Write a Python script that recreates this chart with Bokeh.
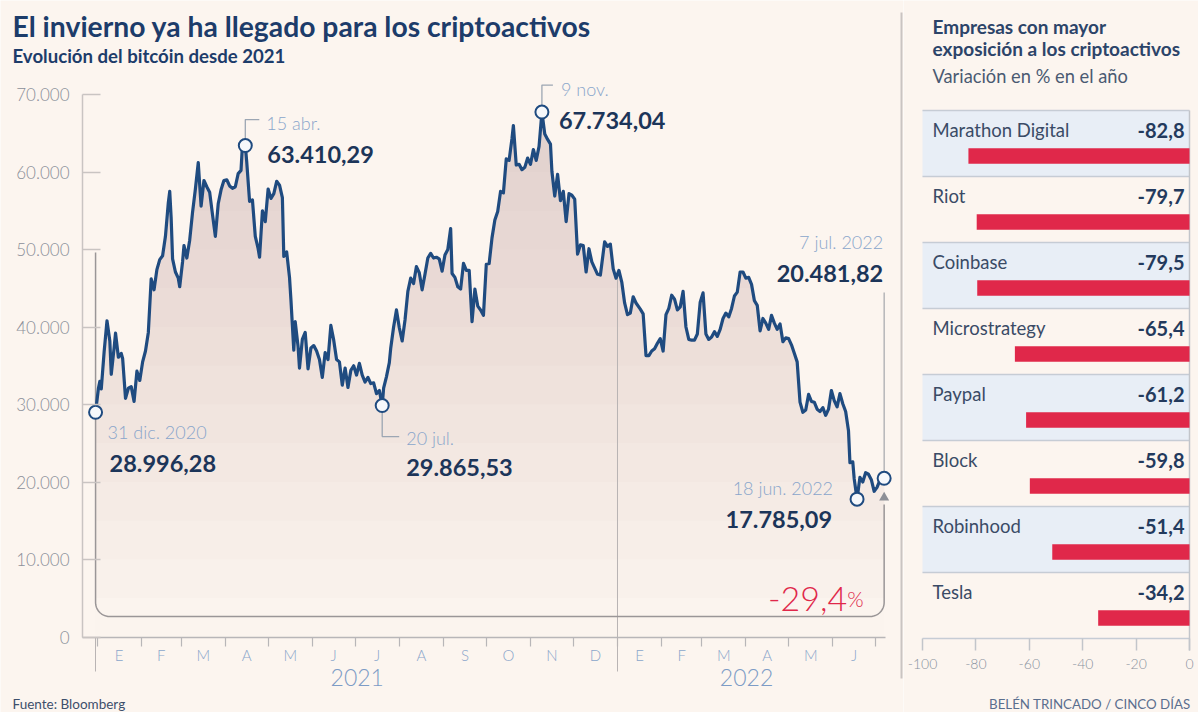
import numpy as np
import pandas as pd
from bokeh.plotting import figure
from bokeh.models import Range1d, LinearAxis, FixedTicker
from bokeh.layouts import row
from bokeh.embed import file_html
from bokeh.resources import INLINE
from bokeh.core.properties import value

# ---------------- data ----------------
btc_dates = [
    "2020-12-31", "2021-01-02", "2021-01-03", "2021-01-04", "2021-01-06", "2021-01-08", "2021-01-10", "2021-01-11",
    "2021-01-13", "2021-01-14", "2021-01-16", "2021-01-18", "2021-01-19", "2021-01-21", "2021-01-23", "2021-01-25",
    "2021-01-27", "2021-01-29", "2021-01-31", "2021-02-02", "2021-02-04", "2021-02-06", "2021-02-08", "2021-02-10",
    "2021-02-12", "2021-02-14", "2021-02-16", "2021-02-18", "2021-02-20", "2021-02-21", "2021-02-22", "2021-02-23",
    "2021-02-25", "2021-02-27", "2021-02-28", "2021-03-02", "2021-03-03", "2021-03-05", "2021-03-07", "2021-03-09",
    "2021-03-11", "2021-03-13", "2021-03-15", "2021-03-17", "2021-03-19", "2021-03-21", "2021-03-23", "2021-03-25",
    "2021-03-27", "2021-03-29", "2021-03-31", "2021-04-02", "2021-04-04", "2021-04-06", "2021-04-08", "2021-04-10",
    "2021-04-12", "2021-04-13", "2021-04-15", "2021-04-16", "2021-04-18", "2021-04-20", "2021-04-22", "2021-04-24",
    "2021-04-25", "2021-04-27", "2021-04-29", "2021-05-01", "2021-05-03", "2021-05-05", "2021-05-07", "2021-05-09",
    "2021-05-11", "2021-05-12", "2021-05-14", "2021-05-16", "2021-05-17", "2021-05-19", "2021-05-20", "2021-05-22",
    "2021-05-23", "2021-05-25", "2021-05-27", "2021-05-29", "2021-05-31", "2021-06-02", "2021-06-04", "2021-06-06",
    "2021-06-08", "2021-06-10", "2021-06-12", "2021-06-14", "2021-06-16", "2021-06-18", "2021-06-20", "2021-06-22",
    "2021-06-24", "2021-06-26", "2021-06-28", "2021-06-30", "2021-07-02", "2021-07-04", "2021-07-06", "2021-07-08",
    "2021-07-10", "2021-07-12", "2021-07-14", "2021-07-16", "2021-07-18", "2021-07-20", "2021-07-21", "2021-07-23",
    "2021-07-25", "2021-07-26", "2021-07-28", "2021-07-30", "2021-08-01", "2021-08-03", "2021-08-05", "2021-08-07",
    "2021-08-09", "2021-08-11", "2021-08-13", "2021-08-15", "2021-08-17", "2021-08-19", "2021-08-21", "2021-08-23",
    "2021-08-25", "2021-08-27", "2021-08-29", "2021-08-31", "2021-09-02", "2021-09-04", "2021-09-06", "2021-09-07",
    "2021-09-09", "2021-09-11", "2021-09-13", "2021-09-15", "2021-09-17", "2021-09-19", "2021-09-21", "2021-09-23",
    "2021-09-25", "2021-09-27", "2021-09-29", "2021-10-01", "2021-10-03", "2021-10-05", "2021-10-07", "2021-10-09",
    "2021-10-11", "2021-10-13", "2021-10-15", "2021-10-17", "2021-10-19", "2021-10-20", "2021-10-22", "2021-10-24",
    "2021-10-26", "2021-10-28", "2021-10-30", "2021-11-01", "2021-11-03", "2021-11-05", "2021-11-07", "2021-11-09",
    "2021-11-11", "2021-11-13", "2021-11-15", "2021-11-16", "2021-11-18", "2021-11-20", "2021-11-22", "2021-11-24",
    "2021-11-26", "2021-11-28", "2021-11-30", "2021-12-02", "2021-12-04", "2021-12-06", "2021-12-08", "2021-12-10",
    "2021-12-12", "2021-12-14", "2021-12-16", "2021-12-18", "2021-12-20", "2021-12-23", "2021-12-25", "2021-12-27",
    "2021-12-29", "2021-12-31", "2022-01-02", "2022-01-04", "2022-01-06", "2022-01-08", "2022-01-10", "2022-01-12",
    "2022-01-14", "2022-01-17", "2022-01-19", "2022-01-21", "2022-01-23", "2022-01-25", "2022-01-27", "2022-01-29",
    "2022-01-31", "2022-02-02", "2022-02-04", "2022-02-06", "2022-02-08", "2022-02-10", "2022-02-12", "2022-02-14",
    "2022-02-16", "2022-02-18", "2022-02-20", "2022-02-22", "2022-02-24", "2022-02-26", "2022-02-28", "2022-03-02",
    "2022-03-04", "2022-03-06", "2022-03-08", "2022-03-10", "2022-03-12", "2022-03-14", "2022-03-16", "2022-03-18",
    "2022-03-20", "2022-03-22", "2022-03-24", "2022-03-26", "2022-03-28", "2022-03-30", "2022-04-01", "2022-04-03",
    "2022-04-05", "2022-04-07", "2022-04-09", "2022-04-11", "2022-04-13", "2022-04-15", "2022-04-17", "2022-04-19",
    "2022-04-21", "2022-04-23", "2022-04-25", "2022-04-27", "2022-04-29", "2022-05-01", "2022-05-03", "2022-05-05",
    "2022-05-07", "2022-05-09", "2022-05-11", "2022-05-13", "2022-05-15", "2022-05-17", "2022-05-19", "2022-05-21",
    "2022-05-23", "2022-05-25", "2022-05-27", "2022-05-29", "2022-05-31", "2022-06-02", "2022-06-04", "2022-06-06",
    "2022-06-08", "2022-06-10", "2022-06-12", "2022-06-13", "2022-06-15", "2022-06-16", "2022-06-18", "2022-06-20",
    "2022-06-22", "2022-06-24", "2022-06-26", "2022-06-28", "2022-06-30", "2022-07-02", "2022-07-04", "2022-07-05",
    "2022-07-07",
]
btc_prices = [
    28996, 32100, 33000, 32000, 36800, 40800, 38200, 33900,
    37300, 39200, 36100, 36600, 35900, 30800, 32100, 32300,
    30400, 34300, 33100, 35500, 36900, 39300, 46200, 44800,
    47400, 48700, 49200, 51700, 56000, 57500, 54100, 48800,
    47100, 46300, 45200, 48400, 50500, 48900, 51200, 54800,
    57800, 61200, 55600, 58900, 58100, 57400, 54500, 51700,
    55900, 57700, 58900, 59000, 58200, 57900, 58100, 59800,
    60200, 63500, 63410, 61300, 56200, 56400, 51700, 50100,
    49000, 55000, 53600, 57800, 56600, 57200, 58800, 58300,
    56700, 49100, 49700, 46400, 43500, 37000, 40700, 37500,
    34700, 38400, 39300, 34600, 37300, 37600, 36900, 35800,
    33500, 36700, 35800, 40200, 38300, 35800, 35500, 32500,
    34700, 32200, 34400, 35000, 33800, 35300, 33800, 32900,
    33500, 32700, 32800, 31400, 31800, 29865, 32100, 33600,
    35400, 37300, 40000, 42200, 39900, 38200, 40900, 44600,
    46300, 45600, 47800, 47000, 44800, 46800, 48900, 49500,
    48900, 49000, 48800, 47200, 49300, 50000, 52700, 46900,
    46400, 45200, 44900, 48200, 47300, 47300, 40700, 44900,
    42700, 42200, 41500, 48100, 48200, 51500, 53800, 54900,
    57500, 57300, 61700, 61500, 64300, 66000, 60900, 61000,
    60300, 60600, 61800, 61000, 62900, 61500, 63300, 67734,
    64900, 64200, 63600, 60100, 56900, 59700, 56300, 57500,
    53600, 57200, 57000, 56500, 49400, 50600, 50500, 47100,
    50100, 48400, 47600, 46800, 46700, 51000, 50400, 50700,
    47500, 46300, 47300, 45800, 43100, 41600, 41800, 43900,
    43100, 42300, 41700, 36300, 36300, 36900, 37200, 37900,
    38500, 36900, 41600, 42400, 44100, 43600, 42200, 42600,
    44600, 40000, 38400, 38300, 38300, 39100, 43200, 44400,
    39100, 38400, 38700, 39400, 38800, 39700, 41100, 41800,
    41300, 42400, 44000, 44500, 47100, 47100, 46300, 46400,
    45500, 43400, 42800, 39500, 41100, 40500, 39700, 41500,
    40500, 39700, 40400, 38100, 38600, 38500, 37700, 36600,
    35500, 30300, 29000, 29300, 31300, 30400, 30300, 29400,
    29100, 29600, 28600, 29400, 31800, 30500, 29700, 31400,
    30100, 29100, 26600, 22500, 22600, 20400, 17785, 20600,
    20000, 21200, 21000, 20300, 18800, 19300, 20200, 20200,
    20481,
]

annot_dates = ["2020-12-31", "2021-04-15", "2021-07-20", "2021-11-09", "2022-06-18", "2022-07-07"]
annot_date_labels = ["31 dic. 2020", "15 abr.", "20 jul.", "9 nov.", "18 jun. 2022", "7 jul. 2022"]
annot_values = [28996.28, 63410.29, 29865.53, 67734.04, 17785.09, 20481.82]
annot_value_labels = ["28.996,28", "63.410,29", "29.865,53", "67.734,04", "17.785,09", "20.481,82"]
change_label = "-29,4"
change_unit = "%"

y_ticks = [0, 10000, 20000, 30000, 40000, 50000, 60000, 70000]
y_tick_labels = ["0", "10.000", "20.000", "30.000", "40.000", "50.000", "60.000", "70.000"]
month_labels = ["E", "F", "M", "A", "M", "J", "J", "A", "S", "O", "N", "D",
                "E", "F", "M", "A", "M", "J"]
year_labels = ["2021", "2022"]

companies = ["Marathon Digital", "Riot", "Coinbase", "Microstrategy", "Paypal", "Block", "Robinhood", "Tesla"]
changes = [-82.8, -79.7, -79.5, -65.4, -61.2, -59.8, -51.4, -34.2]
change_texts = ["-82,8", "-79,7", "-79,5", "-65,4", "-61,2", "-59,8", "-51,4", "-34,2"]
bar_ticks = [-100, -80, -60, -40, -20, 0]
bar_tick_labels = ["-100", "-80", "-60", "-40", "-20", "0"]

title = "El invierno ya ha llegado para los criptoactivos"
subtitle = "Evolución del bitcóin desde 2021"
source = "Fuente: Bloomberg"
credit = "BELÉN TRINCADO / CINCO DÍAS"
side_title = ["Empresas con mayor", "exposición a los criptoactivos"]
side_subtitle = "Variación en % en el año"

# ---------------- style ----------------
BG = "#fcf5ef"
NAVY = "#1d3c6a"
LINE = "#1f4b80"
VALUE = "#1c3559"
DATE = "#8aa6cb"
AXISLBL = "#8b8f99"
GRID = "#c9c4c2"
RED = "#e0284a"
ROWFILL = "#e8eef6"
FONT = "Lato"
LIGHT = "Lato Light"
W1, W2, H = 903, 295, 712

ORIGIN = pd.Timestamp("2021-01-01")


def to_day(d):
    return float((pd.Timestamp(d) - ORIGIN).days)


days = np.array([to_day(d) for d in btc_dates])
prices = np.array(btc_prices, dtype=float)
ann_days = np.array([to_day(d) for d in annot_dates])
ann_vals = np.array(annot_values)

# geometry of the line chart (page pixels)
X_DAY0, PX_DAY = 96.5, 1.426
Y_ZERO, PX_VAL = 636.5, 542.5 / 70000


def xd(px):
    return (px - X_DAY0) / PX_DAY


def yv(py):
    return (Y_ZERO - py) / PX_VAL


p1 = figure(width=W1, height=H, x_range=Range1d(xd(0), xd(W1)), y_range=Range1d(yv(H), yv(0)),
            output_backend="svg", toolbar_location=None, x_axis_location=None, y_axis_location=None,
            min_border=0, background_fill_color=BG, border_fill_color=BG, outline_line_color=None)
p1.xgrid.visible = False
p1.ygrid.visible = False

# vertical gradient-like fill under the line (stacked translucent bands)
for t in range(5000, 70000, 5000):
    p1.varea(x=days, y1=np.full(len(days), float(t)), y2=np.maximum(prices, t),
             fill_color="#ab9ca1", fill_alpha=0.028)
p1.varea(x=days, y1=np.zeros(len(days)), y2=prices, fill_color="#ab9ca1", fill_alpha=0.012)

# year divider inside the chart
jan22 = to_day("2022-01-01")
p1.segment(x0=[jan22], y0=[0], x1=[jan22], y1=[float(np.interp(jan22, days, prices))],
           line_color="#b9b4b4", line_width=1)

# bracket from the first to the last value
xb0, xb1 = days[0], days[-1]
yb = yv(616)
rx, ryv = 14 / PX_DAY, 14 / PX_VAL
th = np.linspace(0, np.pi / 2, 14)
bx_path = np.concatenate([[xb0], xb0 + rx - rx * np.cos(th), xb1 - rx + rx * np.sin(th), [xb1]])
by_path = np.concatenate([[yv(252)], yb + ryv - ryv * np.sin(th), yb + ryv - ryv * np.cos(th), [yv(504)]])
p1.line(bx_path, by_path, line_color="#9a9697", line_width=1.5)
p1.scatter(x=[xb1], y=[yv(497)], marker="triangle", size=10, fill_color="#8d8f96", line_color=None)

# vertical line to the last label
p1.segment(x0=[xb1], y0=[yv(292)], x1=[xb1], y1=[ann_vals[-1]], line_color="#a4a6ab", line_width=1.2)


# leader lines
def leader(i, vpx, hpx):
    x, y = ann_days[i], ann_vals[i]
    ye = y - vpx / PX_VAL
    return [x, x, x + hpx / PX_DAY], [y, ye, ye]


leads = [leader(1, -26, 14), leader(3, -27, 11), leader(2, 31, 17)]
p1.multi_line(xs=[l[0] for l in leads], ys=[l[1] for l in leads], line_color="#9ca6b3", line_width=1.3)

# the price line
p1.line(days, prices, line_color=LINE, line_width=3.2, line_join="round")

# marked points
p1.scatter(x=ann_days, y=ann_vals, marker="circle", size=13, fill_color="#f6f8fb",
           line_color=LINE, line_width=2)

# annotation texts (offsets in pixels)
date_off = [(12, 20, "left"), (21, -23, "left"), (24, 32, "left"), (19, -23, "left"), (-24, -11, "right"), (-1, -236, "right")]
val_off = [(14, 51, "left"), (22, 9, "left"), (24, 62, "left"), (17, 8, "left"), (-25, 20, "right"), (-1, -205, "right")]
for i in range(len(annot_dates)):
    dx, dy, al = date_off[i]
    p1.text(x=[ann_days[i]], y=[ann_vals[i]], text=[annot_date_labels[i]], x_offset=dx, y_offset=dy,
            text_align=al, text_baseline="middle", text_font=value(LIGHT), text_font_size="18px",
            text_color=DATE)
    dx, dy, al = val_off[i]
    p1.text(x=[ann_days[i]], y=[ann_vals[i]], text=[annot_value_labels[i]], x_offset=dx, y_offset=dy,
            text_align=al, text_baseline="middle", text_font=value(FONT), text_font_style="bold",
            text_font_size="23.5px", text_color=VALUE)

# change label
p1.text(x=[xb1], y=[yb], text=[change_label], x_offset=-37, y_offset=-18, text_align="right",
        text_baseline="alphabetic", text_font=value(LIGHT), text_font_size="34px", text_color=RED)
p1.text(x=[xb1], y=[yb], text=[change_unit], x_offset=-37, y_offset=-18, text_align="left",
        text_baseline="alphabetic", text_font=value(LIGHT), text_font_size="21px", text_color=RED)

# separator between panels
p1.segment(x0=[xd(901)], y0=[yv(12)], x1=[xd(901)], y1=[yv(678)], line_color=GRID, line_width=2)

# titles and source
p1.text(x=[xd(12)], y=[yv(25)], text=[title], text_baseline="middle", text_font=value(FONT),
        text_font_style="bold", text_font_size="28.3px", text_color=NAVY)
p1.text(x=[xd(12)], y=[yv(55)], text=[subtitle], text_baseline="middle", text_font=value(FONT),
        text_font_style="bold", text_font_size="18.6px", text_color=NAVY)
p1.text(x=[xd(12)], y=[yv(703)], text=[source], text_baseline="middle", text_font=value(FONT),
        text_font_size="13.5px", text_color="#3d4f6b")

# axes
yaxis = LinearAxis(fixed_location=xd(82), bounds=(0, 70000), ticker=FixedTicker(ticks=y_ticks),
                   major_label_overrides={t: l for t, l in zip(y_ticks, y_tick_labels)},
                   major_tick_in=18, major_tick_out=0, minor_tick_in=0, minor_tick_out=0,
                   axis_line_color=GRID, axis_line_width=1.5, major_tick_line_color=GRID, major_tick_line_width=1.5,
                   major_label_standoff=13, major_label_text_font=LIGHT, major_label_text_font_size="17px",
                   major_label_text_color=AXISLBL)
p1.add_layout(yaxis, "left")

month_starts = [to_day(d) for d in pd.date_range("2021-01-01", "2022-07-01", freq="MS")]
month_mids = [(a + b) / 2 for a, b in zip(month_starts[:-1], month_starts[1:])]
xaxis = LinearAxis(fixed_location=0, bounds=(xd(82), xd(885)),
                   ticker=FixedTicker(ticks=month_mids, minor_ticks=month_starts),
                   major_label_overrides={t: l for t, l in zip(month_mids, month_labels)},
                   major_tick_in=0, major_tick_out=0, minor_tick_in=0, minor_tick_out=9,
                   axis_line_color="#b8b6b8", axis_line_width=1.5, minor_tick_line_color="#b8b6b8",
                   minor_tick_line_width=1.2,
                   major_label_standoff=0, major_label_text_font=LIGHT, major_label_text_font_size="15px",
                   major_label_text_color=DATE)
p1.add_layout(xaxis, "below")

year_mids = [(month_starts[0] + month_starts[12]) / 2, (month_starts[12] + month_starts[-1]) / 2]
yearaxis = LinearAxis(fixed_location=0, ticker=FixedTicker(ticks=year_mids, minor_ticks=[days[0], jan22]),
                      major_label_overrides={t: l for t, l in zip(year_mids, year_labels)},
                      major_tick_in=0, major_tick_out=0, minor_tick_in=0, minor_tick_out=34,
                      axis_line_color=None, minor_tick_line_color="#b9b4b4", minor_tick_line_width=1,
                      major_label_standoff=-2, major_label_text_font=LIGHT, major_label_text_font_size="23px",
                      major_label_text_color="#7d9cc6")
p1.add_layout(yearaxis, "below")

# ---------------- side bar chart ----------------
BX0, PX_PCT = 922, 2.67
ROW_TOP, ROW_H = 110, 66


def bx(px):
    return -100 + (px - BX0) / PX_PCT


def ry(py):
    return (py - ROW_TOP) / ROW_H


p2 = figure(width=W2, height=H, x_range=Range1d(bx(W1), bx(W1 + W2)), y_range=Range1d(ry(H), ry(0)),
            output_backend="svg", toolbar_location=None, x_axis_location=None, y_axis_location=None,
            min_border=0, background_fill_color=BG, border_fill_color=BG, outline_line_color=None)
p2.xgrid.visible = False
p2.ygrid.visible = False

rows = np.arange(len(companies))
even = rows[rows % 2 == 0]
p2.quad(left=-100, right=0, top=even, bottom=even + 1, fill_color=ROWFILL, line_color=None)
p2.segment(x0=-100, y0=np.arange(len(companies) + 1), x1=0, y1=np.arange(len(companies) + 1),
           line_color="#c6ccd5", line_width=1.5)
p2.segment(x0=[0], y0=[0], x1=[0], y1=[ry(650)], line_color="#c2c5ca", line_width=1.5)
p2.hbar(y=rows + 0.69, left=changes, right=0, height=0.235, fill_color=RED, line_color=None)
p2.text(x=-100, y=rows + 0.30, text=companies, x_offset=10, text_baseline="middle",
        text_font=value(FONT), text_font_size="18.5px", text_color="#3a4b66")
p2.text(x=0, y=rows + 0.30, text=change_texts, x_offset=-5, text_align="right", text_baseline="middle",
        text_font=value(FONT), text_font_style="bold", text_font_size="20px", text_color="#233a5d")

p2.text(x=[bx(932)] * 2, y=[ry(26), ry(48)], text=side_title, text_baseline="middle",
        text_font=value(FONT), text_font_style="bold", text_font_size="19px", text_color="#2c4469")
p2.text(x=[bx(932)], y=[ry(75)], text=[side_subtitle], text_baseline="middle",
        text_font=value(FONT), text_font_size="18.3px", text_color="#4a5a72")
p2.text(x=[bx(1190)], y=[ry(703)], text=[credit], text_align="right", text_baseline="middle",
        text_font=value(FONT), text_font_size="13.3px", text_color="#5a6e8e")

baxis = LinearAxis(fixed_location=len(companies), ticker=FixedTicker(ticks=bar_ticks),
                   major_label_overrides={t: l for t, l in zip(bar_ticks, bar_tick_labels)},
                   major_tick_in=0, major_tick_out=12, minor_tick_in=0, minor_tick_out=0,
                   axis_line_color=None, major_tick_line_color="#c2c5ca", major_tick_line_width=1.5,
                   major_label_standoff=8, major_label_text_font=LIGHT, major_label_text_font_size="14px",
                   major_label_text_color="#8a93a0")
p2.add_layout(baxis, "below")

layout = row(p1, p2)
open("out.html", "w").write(file_html(layout, INLINE))
